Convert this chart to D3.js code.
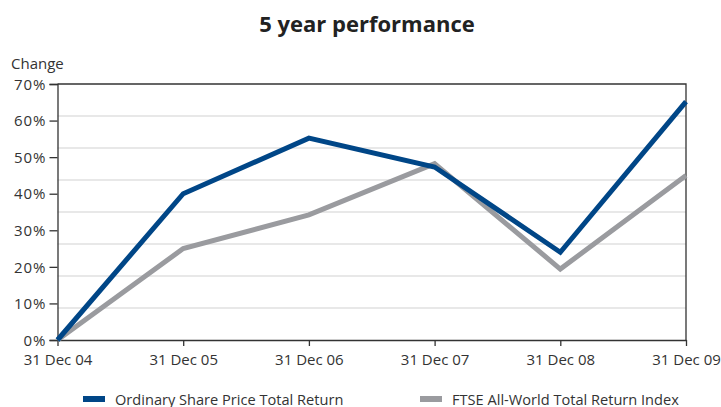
<!DOCTYPE html>
<html>
<head>
<meta charset="utf-8">
<script src="https://d3js.org/d3.v7.min.js"></script>
<style>
  body { margin: 0; background: #fff; }
  text { font-family: "Open Sans", sans-serif; fill: #333; }
</style>
</head>
<body>
<script>
var dates = ["31 Dec 04", "31 Dec 05", "31 Dec 06", "31 Dec 07", "31 Dec 08", "31 Dec 09"];
var sharePrice = [0, 40, 55.2, 47.3, 24, 65.2];
var ftseIndex = [0, 25, 34.2, 48.2, 19.4, 45];
var yTicks = [0, 10, 20, 30, 40, 50, 60, 70];
var seriesNames = ["Ordinary Share Price Total Return", "FTSE All-World Total Return Index"];
var seriesColors = ["#004687", "#9a9b9f"];

var width = 721, height = 407;
var margin = {top: 84, left: 57.5, right: 35, bottom: 67};

var svg = d3.select("body").append("svg")
  .attr("width", width)
  .attr("height", height);

var x = d3.scalePoint().domain(dates).range([margin.left, width - margin.right]);
var y = d3.scaleLinear().domain([0, 70]).range([height - margin.bottom, margin.top]);
// the grid in the original is drawn in 8 bands, not on the ticks
var grid = d3.scaleLinear().domain([0, 8]).range([height - margin.bottom, margin.top]);

svg.append("text")
  .attr("x", 367).attr("y", 31.5)
  .attr("text-anchor", "middle")
  .attr("font-size", 22).attr("font-weight", "bold")
  .style("fill", "#222")
  .text("5 year performance");

svg.append("text")
  .attr("x", 11).attr("y", 69)
  .attr("font-size", 15)
  .text("Change");

// gridlines
svg.append("g").selectAll("line")
  .data(d3.range(1, 8))
  .enter().append("line")
  .attr("x1", margin.left).attr("x2", width - margin.right)
  .attr("y1", d => grid(d)).attr("y2", d => grid(d))
  .attr("stroke", "#d2d2d2").attr("stroke-width", 1.2);

// frame top + right
svg.append("path")
  .attr("d", "M" + margin.left + "," + margin.top + "H" + (width - margin.right) + "V" + (height - margin.bottom))
  .attr("fill", "none").attr("stroke", "#333").attr("stroke-width", 1.3);

var yAxis = svg.append("g")
  .attr("transform", "translate(" + margin.left + ",0)")
  .call(d3.axisLeft(y).tickValues(yTicks).tickSize(8).tickPadding(3).tickFormat(d => d + "%"));

var xAxis = svg.append("g")
  .attr("transform", "translate(0," + (height - margin.bottom) + ")")
  .call(d3.axisBottom(x).tickSize(6).tickSizeOuter(0).tickPadding(8));

[yAxis, xAxis].forEach(function(a){
  a.select(".domain").attr("stroke", "#333").attr("stroke-width", 1.3);
  a.selectAll(".tick line").attr("stroke", "#333").attr("stroke-width", 1.3);
  a.selectAll("text").attr("font-size", 15).attr("font-family", "Open Sans").style("fill", "#333");
});
yAxis.selectAll("text").attr("dy", "0.35em").attr("letter-spacing", 1);

var line = d3.line()
  .x((d, i) => x(dates[i]))
  .y(d => y(d));

[ftseIndex, sharePrice].forEach(function(s, k){
  svg.append("path")
    .datum(s)
    .attr("d", line)
    .attr("fill", "none")
    .attr("stroke", seriesColors[1 - k])
    .attr("stroke-width", 5)
    .attr("stroke-linejoin", "miter");
});

// legend
var legendX = [83, 420];
var legend = svg.append("g").selectAll("g")
  .data(seriesNames)
  .enter().append("g")
  .attr("transform", (d, i) => "translate(" + legendX[i] + ",399)");

legend.append("rect")
  .attr("x", 0).attr("y", -3)
  .attr("width", 22).attr("height", 6)
  .attr("fill", (d, i) => seriesColors[i]);

legend.append("text")
  .attr("x", 32).attr("y", 5.5)
  .attr("font-size", 14.6)
  .text(d => d);
</script>
</body>
</html>
